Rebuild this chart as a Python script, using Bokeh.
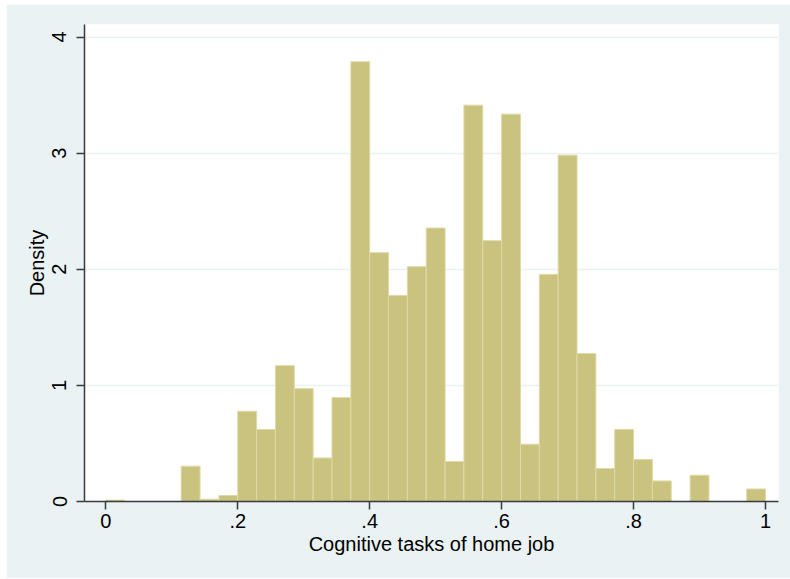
import numpy as np
from bokeh.plotting import figure
from bokeh.models import Range1d, FixedTicker, ColumnDataSource, Spacer
from bokeh.layouts import column, row
from bokeh.embed import file_html
from bokeh.resources import INLINE

# ---- data (density per bin, 35 equal bins on [0, 1]) ----
n_bins = 35
bin_start = 0.0
bin_end = 1.0
density = [0.012, 0.0, 0.0, 0.0, 0.304, 0.020, 0.052, 0.777, 0.620, 1.170,
           0.972, 0.375, 0.895, 3.787, 2.143, 1.775, 2.022, 2.355, 0.345, 3.413,
           2.246, 3.336, 0.493, 1.956, 2.983, 1.275, 0.284, 0.620, 0.361, 0.177,
           0.0, 0.226, 0.0, 0.0, 0.108]
x_ticks = [0, 0.2, 0.4, 0.6, 0.8, 1.0]
x_tick_labels = ["0", ".2", ".4", ".6", ".8", "1"]
y_ticks = [0, 1, 2, 3, 4]
y_tick_labels = ["0", "1", "2", "3", "4"]
x_title = "Cognitive tasks of home job"
y_title = "Density"

edges = np.linspace(bin_start, bin_end, n_bins + 1)
dens = np.array(density)
keep = dens > 0
src = ColumnDataSource(dict(left=edges[:-1][keep], right=edges[1:][keep], top=dens[keep]))

BG = "#EAF2F3"
FONT = "Liberation Sans"

p = figure(width=784, height=574, output_backend="svg", toolbar_location=None,
           x_range=Range1d(-0.0323, 1.0197), y_range=Range1d(0, 4.108),
           min_border_left=78, min_border_right=12, min_border_top=20, min_border_bottom=77)
p.border_fill_color = BG
p.background_fill_color = "white"
p.outline_line_color = None

p.quad(left="left", right="right", top="top", bottom=0, source=src,
       fill_color="#CAC27F", line_color="#DEDAA6", line_width=1)

# grid
p.xgrid.visible = False
p.ygrid.ticker = FixedTicker(ticks=y_ticks)
p.ygrid.grid_line_color = BG
p.ygrid.grid_line_width = 1.6

for ax in (p.xaxis[0], p.yaxis[0]):
    ax.axis_line_color = "#3A3A3A"
    ax.axis_line_width = 1.5
    ax.major_tick_line_color = "#3A3A3A"
    ax.major_tick_line_width = 1.5
    ax.major_tick_out = 8
    ax.major_tick_in = 0
    ax.minor_tick_line_color = None
    ax.major_label_text_font = FONT
    ax.major_label_text_font_size = "20px"
    ax.major_label_text_color = "black"
    ax.axis_label_text_font = FONT
    ax.axis_label_text_font_size = "20px"
    ax.axis_label_text_font_style = "normal"
    ax.axis_label_text_color = "black"

xa = p.xaxis[0]
xa.ticker = FixedTicker(ticks=x_ticks)
xa.major_label_overrides = {t: l for t, l in zip(x_ticks, x_tick_labels)}
xa.axis_label = x_title
xa.major_label_standoff = 4
xa.axis_label_standoff = 2

ya = p.yaxis[0]
ya.ticker = FixedTicker(ticks=y_ticks)
ya.major_label_overrides = {t: l for t, l in zip(y_ticks, y_tick_labels)}
ya.major_label_orientation = "vertical"
ya.axis_label = y_title
ya.major_label_standoff = 10
ya.axis_label_standoff = 2

layout = column(Spacer(height=4), row(Spacer(width=6), p))

open("out.html", "w").write(file_html(layout, INLINE))
